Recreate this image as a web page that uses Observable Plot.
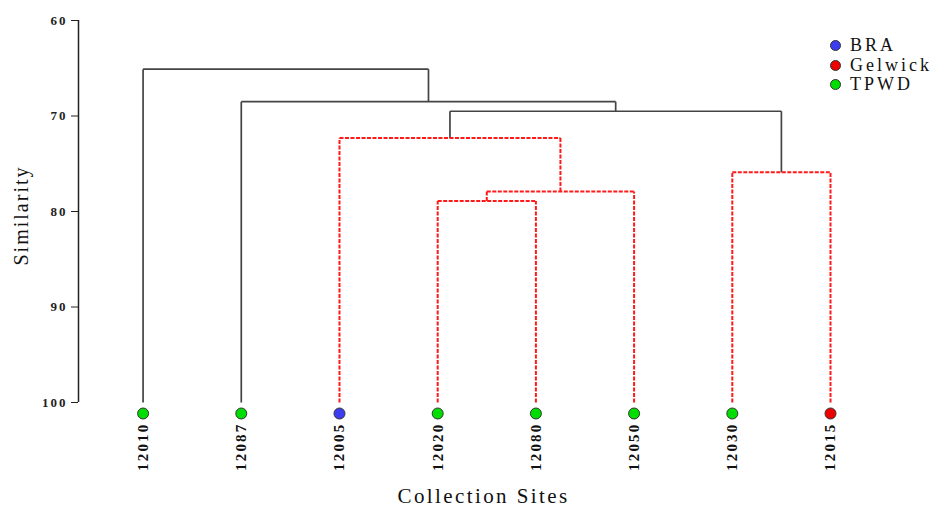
<!DOCTYPE html>
<html>
<head>
<meta charset="utf-8">
<script src="https://cdn.jsdelivr.net/npm/d3@7"></script>
<script src="https://cdn.jsdelivr.net/npm/@observablehq/plot@0.6"></script>
<style>
  html, body { margin: 0; padding: 0; background: #fff; }
  #wrap { position: relative; width: 935px; height: 508px; }
  #legend { position: absolute; left: 830px; top: 36px; font-family: "Liberation Serif", serif; font-size: 18px; color: #111; letter-spacing: 3px; line-height: 19.5px; }
  #legend .it { display: flex; align-items: center; }
  #legend .sw { width: 11px; height: 11px; border-radius: 50%; border: 1px solid #333; box-sizing: border-box; margin-right: 9px; }
  g[aria-label="y-axis tick label"] text { letter-spacing: 2px; }
</style>
</head>
<body>
<div id="wrap"></div>
<script>
// ---- data ----
const leaves = ["12010", "12087", "12005", "12020", "12080", "12050", "12030", "12015"];
const leafGroups = ["TPWD", "TPWD", "BRA", "TPWD", "TPWD", "TPWD", "TPWD", "Gelwick"];
const groupNames = ["BRA", "Gelwick", "TPWD"];
const groupColors = ["#3c3cf0", "#ee0000", "#00dd00"];
// merge nodes (ids 8..14); children refer to leaf ids 0..7 or earlier merges
const mergeLeft = [3, 8, 2, 6, 10, 1, 0];
const mergeRight = [4, 5, 9, 7, 11, 12, 13];
const mergeHeight = [78.9, 77.9, 72.3, 75.9, 69.5, 68.5, 65.1];
const mergeStyle = ["cluster", "cluster", "cluster", "cluster", "join", "join", "join"];
const yTicks = [60, 70, 80, 90, 100];

// ---- build tree geometry from data ----
const nodeX = leaves.map((_, i) => i);
const nodeY = leaves.map(() => 100);
mergeLeft.forEach((a, k) => {
  const b = mergeRight[k];
  nodeX.push((nodeX[a] + nodeX[b]) / 2);
  nodeY.push(mergeHeight[k]);
});
const segments = [];
mergeLeft.forEach((a, k) => {
  const b = mergeRight[k], h = mergeHeight[k], s = mergeStyle[k];
  segments.push({x1: nodeX[a], y1: h, x2: nodeX[b], y2: h, style: s});
  segments.push({x1: nodeX[a], y1: nodeY[a], x2: nodeX[a], y2: h, style: s});
  segments.push({x1: nodeX[b], y1: nodeY[b], x2: nodeX[b], y2: h, style: s});
});
const leafData = leaves.map((name, i) => ({i, name, group: leafGroups[i]}));
const xMin = -0.6576;

const chart = Plot.plot({
  width: 935,
  height: 508,
  marginLeft: 78,
  marginRight: 105,
  marginTop: 20,
  marginBottom: 106,
  style: {fontFamily: "'Liberation Serif', serif", background: "#fff"},
  x: {domain: [xMin, 7], axis: null},
  y: {domain: [60, 100], reverse: true, axis: null},
  color: {domain: groupNames, range: groupColors},
  marks: [
    Plot.axisY({ticks: yTicks, tickSize: 7, tickPadding: 4, fontSize: 13, fontWeight: "bold", label: null, stroke: "#222", fill: "#222"}),
    Plot.ruleX([xMin], {y1: 60, y2: 100, stroke: "#222", strokeWidth: 1.5}),
    Plot.link(segments.filter(d => d.style === "join"), {x1: "x1", y1: "y1", x2: "x2", y2: "y2", stroke: "#444", strokeWidth: 1.7}),
    Plot.link(segments.filter(d => d.style === "cluster"), {x1: "x1", y1: "y1", x2: "x2", y2: "y2", stroke: "#ff1a1a", strokeWidth: 2, strokeDasharray: "4,1.5"}),
    Plot.dot(leafData, {x: "i", y: () => 100, dy: 11, r: 5.5, fill: "group", stroke: "#333", strokeWidth: 1}),
    Plot.text(leafData, {x: "i", y: () => 100, dy: 20, text: "name", rotate: -90, textAnchor: "end", fontSize: 15, fontWeight: "bold", fill: "#111"}),
    Plot.text(["Similarity"], {frameAnchor: "left", textAnchor: "middle", dx: -57, dy: 4, rotate: -90, text: d => d, fontSize: 20, fill: "#111"}),
    Plot.text(["Collection Sites"], {frameAnchor: "bottom", textAnchor: "middle", dx: 29, dy: 100, text: d => d, fontSize: 21, fill: "#111"})
  ]
});
// letter spacing for the wide original typeface
const textGroups = chart.querySelectorAll('g[aria-label="text"]');
const spacings = ["2.2px", "2px", "2.4px"];
textGroups.forEach((g, k) => { if (spacings[k]) g.style.letterSpacing = spacings[k]; });

const wrap = document.getElementById("wrap");
wrap.appendChild(chart);

const legend = document.createElement("div");
legend.id = "legend";
groupNames.forEach((g, k) => {
  const it = document.createElement("div");
  it.className = "it";
  const sw = document.createElement("span");
  sw.className = "sw";
  sw.style.background = groupColors[k];
  const lab = document.createElement("span");
  lab.textContent = g;
  it.appendChild(sw);
  it.appendChild(lab);
  legend.appendChild(it);
});
wrap.appendChild(legend);
</script>
</body>
</html>
